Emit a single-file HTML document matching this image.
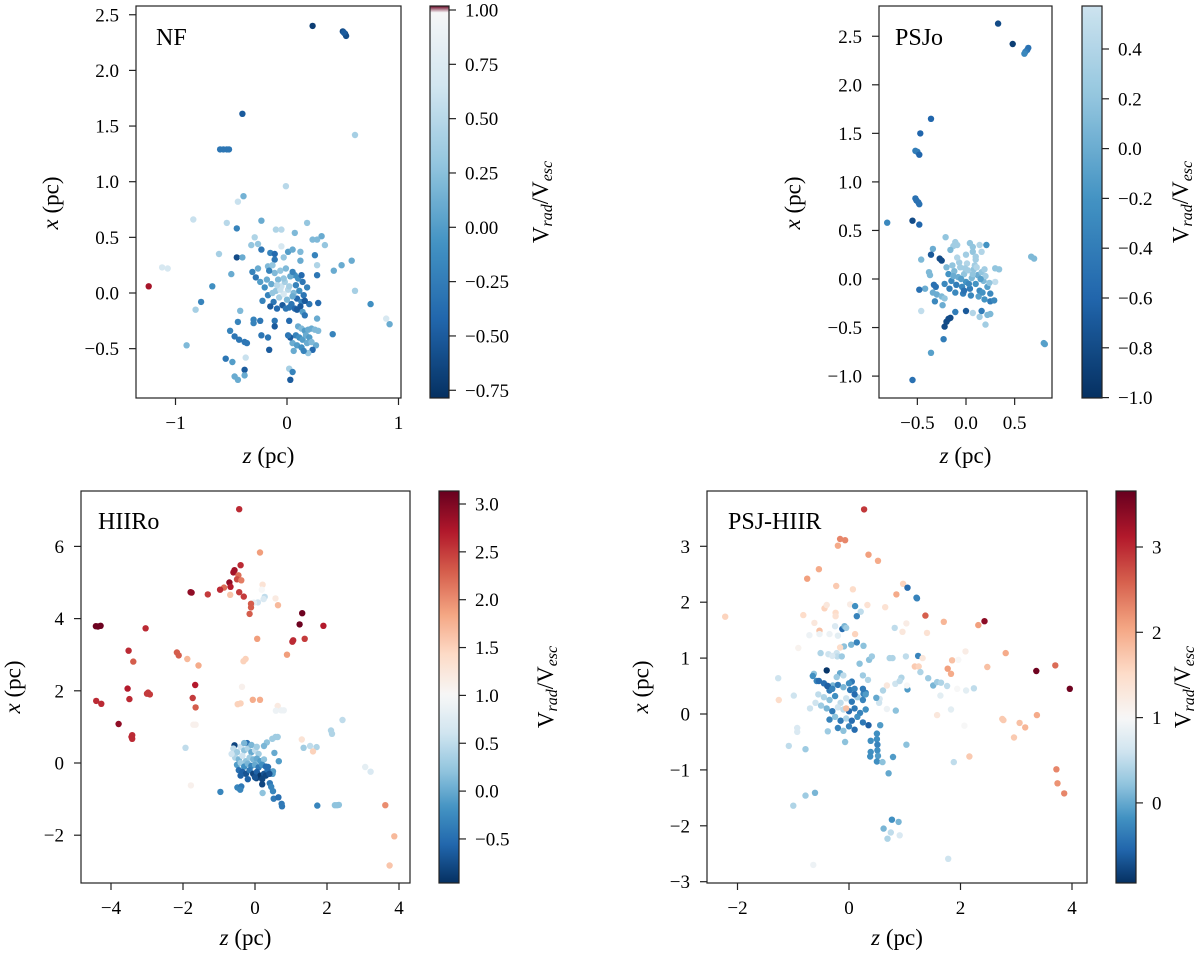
<!DOCTYPE html>
<html><head><meta charset="utf-8"><style>
html,body{margin:0;padding:0;background:#fff;}
svg text{font-family:"Liberation Serif",serif;fill:#000;}
</style></head><body>
<svg id="fig" width="1200" height="955" viewBox="0 0 1200 955" xmlns="http://www.w3.org/2000/svg"></svg>
<script>
// ---------- DATA (z [pc], x [pc], Vrad/Vesc) ----------
const nfPoints = [
[0.23,2.40,-0.7],[0.50,2.35,-0.6],[0.52,2.33,-0.6],[0.53,2.31,-0.6],[0.51,2.34,-0.5],
[-0.40,1.61,-0.5],[-0.60,1.29,-0.3],[-0.57,1.29,-0.3],[-0.54,1.29,-0.3],[-0.52,1.29,-0.3],
[0.61,1.42,0.4],[-0.01,0.96,0.5],[-0.39,0.87,0.15],[-0.44,0.82,0.6],[-0.84,0.66,0.6],[-0.54,0.63,0.5],
[-0.23,0.65,0.1],[-0.45,0.58,-0.2],[-0.10,0.57,0.45],[-0.05,0.57,0.5],[0.07,0.54,0.2],[0.18,0.63,0.3],
[0.31,0.51,0.1],[0.23,0.48,0.2],[0.27,0.48,0.2],[-0.29,0.50,0.45],[-0.32,0.43,0.3],[-0.26,0.44,0.3],
[-0.05,0.42,0.7],[-0.23,0.39,-0.3],[0.34,0.43,0.3],[-0.61,0.35,0.4],[-0.45,0.32,-0.6],[-0.40,0.32,0.1],
[-0.15,0.36,-0.2],[-0.11,0.35,-0.4],[0.01,0.37,0.0],[0.05,0.39,0.1],[0.12,0.37,0.2],[0.25,0.34,-0.2],
[-0.03,0.32,0.3],[-0.11,0.30,-0.3],[0.12,0.29,0.1],[0.58,0.29,0.1],[0.49,0.25,0.1],[0.27,0.25,0.45],
[0.42,0.20,0.1],[-0.50,0.17,0.1],[-0.31,0.19,-0.2],[-0.26,0.22,0.1],[-0.17,0.24,0.2],[-0.13,0.25,0.3],
[-0.28,0.14,-0.3],[0.27,0.16,-0.3],[0.07,0.16,-0.1],[-0.67,0.06,-0.1],[-1.24,0.06,1.015],
[-1.12,0.23,0.7],[-1.07,0.22,0.7],[0.61,0.02,0.4],[-0.77,-0.08,-0.2],[-0.82,-0.15,0.4],[-0.42,-0.16,0.2],
[0.28,-0.09,-0.4],[0.75,-0.10,-0.1],[0.89,-0.23,0.7],[0.92,-0.28,0.1],[-0.44,-0.26,-0.2],[-0.30,-0.24,-0.2],
[-0.30,-0.27,-0.2],[-0.24,-0.25,-0.3],[-0.11,-0.25,-0.3],[0.02,-0.25,-0.4],[0.27,-0.23,0.1],[-0.51,-0.34,-0.2],
[-0.47,-0.39,-0.3],[-0.43,-0.42,-0.3],[-0.38,-0.44,-0.3],[-0.36,-0.45,-0.3],[-0.23,-0.38,-0.3],[-0.17,-0.40,-0.3],
[-0.11,-0.30,-0.5],[-0.16,-0.51,-0.5],[-0.90,-0.47,0.2],[0.41,-0.37,-0.2],[0.26,-0.47,0.1],[0.23,-0.51,-0.4],
[0.19,-0.54,0.3],[-0.55,-0.59,-0.3],[-0.49,-0.62,0.0],[-0.37,-0.58,0.6],[-0.38,-0.69,-0.5],[-0.47,-0.75,0.1],
[-0.44,-0.78,0.1],[-0.38,-0.74,0.1],[0.02,-0.68,0.4],[0.05,-0.71,-0.2],[0.03,-0.78,-0.5],
[0.10,-0.30,0.1],[0.13,-0.32,0.2],[0.16,-0.34,0.0],[0.19,-0.33,0.1],[0.22,-0.32,0.1],[0.25,-0.33,0.2],
[0.28,-0.34,0.2],[0.08,-0.38,-0.2],[0.11,-0.40,-0.1],[0.14,-0.42,0.0],[0.17,-0.38,0.1],[0.20,-0.40,0.0],
[0.05,-0.45,0.1],[0.09,-0.47,0.0],[0.13,-0.49,-0.1],[0.18,-0.45,0.1],[0.22,-0.44,0.2],[0.03,-0.40,-0.5],
[0.06,-0.52,0.1],[0.15,-0.52,-0.2],[0.01,-0.38,-0.3],
[-0.20,0.05,-0.1],[-0.17,-0.02,-0.2],[-0.14,0.08,0.1],[-0.12,-0.08,-0.3],[-0.10,0.02,0.3],[-0.08,0.12,0.2],
[-0.07,-0.04,0.4],[-0.05,0.06,0.6],[-0.03,-0.01,0.7],[-0.02,0.10,0.4],[0.00,-0.06,0.2],[0.01,0.03,0.5],
[0.03,0.15,0.1],[0.04,-0.10,-0.3],[0.06,0.00,0.2],[0.08,0.07,-0.2],[0.09,-0.05,-0.4],[0.11,0.02,-0.1],
[0.13,-0.08,-0.2],[0.14,0.10,-0.3],[-0.22,-0.07,-0.2],[-0.18,0.12,0.1],[-0.15,-0.12,-0.5],[-0.11,0.18,0.2],
[-0.09,-0.14,-0.4],[-0.06,0.20,0.3],[-0.04,-0.11,-0.5],[-0.01,0.22,0.2],[0.02,-0.13,-0.3],[0.05,0.19,-0.2],
[0.07,-0.14,-0.4],[0.10,0.13,-0.1],[0.12,-0.12,-0.5],[0.15,-0.02,-0.3],[0.18,0.05,-0.2],[0.20,-0.10,-0.3],
[-0.24,0.10,0.0],[-0.13,0.00,0.3],[-0.06,0.03,0.6],[0.02,0.06,0.4],[-0.09,0.07,0.5],[-0.03,0.13,0.3],
[0.05,-0.03,0.1],[0.13,0.16,-0.4],[0.16,-0.07,-0.5],[-0.16,0.20,-0.2],[-0.01,-0.14,-0.3],[0.09,-0.15,-0.5],
[0.14,-0.17,0.0],[0.16,-0.20,-0.3]
];
const psjoPoints = [
[0.33,2.63,-0.8],[0.48,2.42,-0.9],[0.63,2.36,-0.5],[0.64,2.38,-0.5],[0.61,2.34,-0.4],[0.60,2.32,-0.3],
[-0.36,1.65,-0.6],[-0.47,1.50,-0.6],[-0.52,1.32,-0.4],[-0.50,1.31,-0.4],[-0.48,1.28,-0.6],
[-0.52,0.83,-0.5],[-0.51,0.81,-0.5],[-0.49,0.79,-0.5],[-0.48,0.77,-0.5],[-0.81,0.58,-0.3],[-0.55,0.60,-0.8],
[-0.48,0.56,-0.6],[-0.21,0.43,0.2],[-0.34,0.31,0.0],[-0.36,0.25,-0.7],[-0.27,0.21,-0.8],[-0.25,0.19,-0.8],
[-0.46,0.20,0.1],[-0.11,0.38,0.3],[-0.09,0.35,0.3],[-0.13,0.34,0.3],[0.04,0.37,0.2],[0.14,0.35,0.4],
[0.07,0.33,0.2],[0.21,0.35,-0.2],[-0.16,0.30,0.1],[0.00,0.25,0.3],[0.07,0.28,0.2],[0.10,0.23,0.3],
[0.16,0.28,0.4],[0.67,0.23,0.1],[0.70,0.21,0.1],[0.30,0.11,0.2],[0.34,0.10,0.2],[-0.38,0.07,0.1],
[-0.37,0.04,0.1],[-0.42,-0.10,0.0],[-0.48,-0.11,-0.5],[-0.33,-0.06,-0.5],[-0.31,-0.08,-0.5],
[-0.34,-0.14,0.0],[-0.30,-0.16,0.0],[-0.25,-0.18,0.1],[-0.22,-0.20,0.2],[-0.32,-0.23,-0.3],[-0.24,-0.27,0.0],
[-0.11,-0.34,-0.4],[0.00,-0.33,-0.7],[0.07,-0.35,0.4],[-0.46,-0.33,0.5],[0.16,-0.33,-0.4],[0.14,-0.39,0.3],
[0.22,-0.37,0.1],[0.25,-0.36,0.1],[0.20,-0.47,0.3],[0.25,-0.15,-0.3],[0.25,-0.23,-0.4],[0.29,-0.22,-0.3],
[0.19,-0.21,-0.2],[0.30,-0.03,0.5],[-0.18,-0.41,-0.8],[-0.16,-0.40,-0.8],[-0.20,-0.44,-0.8],[-0.22,-0.49,-0.8],
[-0.23,-0.62,-0.4],[-0.36,-0.76,-0.1],[-0.55,-1.04,-0.5],[0.80,-0.66,-0.1],[0.81,-0.67,-0.1],
[-0.18,0.05,-0.2],[-0.15,-0.02,-0.3],[-0.12,0.08,0.1],[-0.10,-0.06,-0.4],[-0.08,0.02,0.0],[-0.06,0.12,0.3],
[-0.04,-0.08,-0.3],[-0.02,0.05,0.2],[0.00,-0.03,-0.2],[0.02,0.09,0.3],[0.04,-0.10,-0.4],[0.06,0.01,0.1],
[0.08,0.10,0.2],[0.10,-0.05,-0.2],[0.12,0.04,0.0],[0.14,-0.12,-0.3],[0.16,0.07,0.2],[0.18,-0.02,0.1],
[0.20,0.03,0.3],[0.22,-0.08,-0.1],[-0.14,0.14,0.2],[-0.11,-0.14,-0.3],[-0.07,0.17,0.3],[-0.03,-0.15,-0.4],
[0.01,0.16,0.4],[0.05,-0.17,-0.3],[0.09,0.14,0.3],[0.13,-0.18,-0.1],[-0.20,0.12,0.1],[-0.17,-0.10,-0.4],
[-0.09,0.22,0.4],[-0.05,0.00,-0.1],[0.03,-0.05,-0.3],[0.07,0.05,0.2],[0.11,0.12,0.4],[0.15,0.00,-0.1],
[-0.13,0.03,0.0],[-0.01,0.11,0.3],[0.17,-0.14,-0.2],[0.24,-0.04,0.2],[-0.22,-0.05,-0.3],[-0.02,-0.12,-0.5],
[0.10,0.20,0.3],[0.19,0.10,0.3]
];
const hiiroPoints = [
[-0.44,7.03,2.6],[0.14,5.83,1.9],[-0.40,5.48,2.6],[-0.57,5.34,2.8],[-0.60,5.28,2.8],[-0.46,5.20,2.2],
[-0.50,5.09,2.4],[-0.38,5.06,2.1],[-0.71,5.00,2.9],[-0.68,4.88,2.7],[-0.86,4.86,2.2],[-0.97,4.80,2.6],
[-0.69,4.66,1.6],[-0.44,4.73,2.5],[-0.31,4.61,2.5],[-1.76,4.72,2.9],[-1.79,4.73,2.9],[-1.31,4.67,2.5],
[0.21,4.94,1.3],[0.19,4.80,1.0],[0.27,4.60,0.5],[0.24,4.54,0.7],[0.08,4.45,0.6],[-0.03,4.44,0.8],
[0.57,4.56,1.2],[0.64,4.37,1.7],[-0.11,4.41,2.3],[-0.11,4.31,2.3],[-0.15,4.13,2.3],[1.31,4.15,3.1],
[1.24,3.84,3.1],[1.90,3.80,2.7],[-4.42,3.79,3.1],[-4.29,3.80,3.1],[-4.36,3.78,3.1],[-3.04,3.73,2.6],
[0.06,3.44,1.9],[1.04,3.36,2.6],[1.06,3.40,2.6],[1.38,3.44,2.5],[-3.51,3.11,2.6],[-3.38,2.81,2.3],
[-2.17,3.06,2.3],[-2.12,2.98,2.3],[-1.88,2.88,1.7],[-1.57,2.70,1.8],[-0.32,2.82,1.5],[-0.26,2.88,1.5],
[0.89,3.00,1.9],[-1.66,2.16,2.7],[-3.54,2.06,2.7],[-3.49,1.77,2.6],[-3.00,1.92,2.5],[-2.92,1.90,2.5],
[-2.97,1.95,2.5],[-4.41,1.72,2.6],[-4.27,1.64,2.6],[-1.73,1.80,2.5],[-1.65,1.54,2.3],[-0.36,2.11,1.1],
[-0.48,1.63,1.5],[-0.40,1.65,1.5],[-0.06,1.75,1.8],[0.14,1.75,1.8],[0.63,1.58,1.2],[0.58,1.45,0.9],
[0.80,1.46,0.9],[0.73,1.46,0.9],[-3.79,1.08,2.9],[-3.41,0.77,2.6],[-3.41,0.67,2.6],[-3.43,0.72,2.6],
[-1.71,1.06,1.1],[-1.65,1.06,1.1],[2.43,1.19,0.5],[2.11,0.90,0.4],[2.14,0.81,0.4],[1.30,0.65,1.3],
[1.35,0.42,0.3],[1.53,0.47,0.5],[1.71,0.44,0.4],[1.61,0.32,1.5],[-1.93,0.42,0.5],[-1.78,-0.62,1.1],
[3.06,-0.11,0.8],[3.21,-0.24,0.7],[0.21,-0.83,0.2],[-0.96,-0.80,-0.3],[3.62,-1.17,2.0],[1.73,-1.18,-0.3],
[2.22,-1.17,0.2],[2.28,-1.17,0.2],[2.33,-1.16,0.2],[0.74,-1.13,-0.4],[0.75,-1.20,-0.4],[0.50,-0.78,-0.3],
[0.52,-0.99,-0.4],[0.65,-0.95,-0.5],[0.41,-0.56,-0.4],[0.45,-0.66,-0.3],[3.87,-2.03,1.7],[3.74,-2.84,1.6],
[0.57,0.72,0.3],[0.48,0.67,0.3],[0.63,0.72,0.3],[0.33,0.57,0.2],[0.25,0.47,0.1],[0.54,0.28,0.0],
[0.66,0.05,-0.1],[0.50,-0.23,-0.1],[0.49,-0.30,-0.1],[0.36,-0.11,-0.5],[0.20,-0.59,-0.8],[0.04,-0.42,-0.8],
[-0.49,-0.68,-0.3],[-0.38,-0.65,-0.4],[-0.41,-0.74,-0.3],[-0.22,0.55,-0.5],[-0.57,0.49,-0.8],
[-0.6,0.4,0.5],[-0.5,0.3,0.3],[-0.4,0.45,0.6],[-0.3,0.35,0.2],[-0.2,0.4,0.4],[-0.1,0.3,0.0],[0.0,0.35,0.5],
[0.1,0.25,0.3],[-0.55,0.15,0.4],[-0.45,0.1,0.1],[-0.35,0.2,0.6],[-0.25,0.05,0.2],[-0.15,0.15,0.3],
[-0.05,0.1,0.1],[0.05,0.12,0.0],[0.15,0.05,-0.1],[0.25,0.1,0.2],[-0.5,-0.05,-0.1],[-0.4,0.0,0.3],
[-0.3,-0.1,-0.2],[-0.2,-0.02,0.1],[-0.1,-0.08,-0.3],[0.0,-0.05,0.0],[0.1,-0.12,-0.4],[0.2,-0.05,-0.2],
[0.3,-0.1,-0.5],[-0.45,-0.2,-0.5],[-0.35,-0.25,-0.6],[-0.25,-0.3,-0.7],[-0.15,-0.2,-0.4],[-0.05,-0.3,-0.8],
[0.05,-0.25,-0.6],[0.15,-0.35,-0.9],[0.25,-0.3,-0.7],[0.35,-0.2,-0.5],[-0.2,-0.45,-0.6],[0.0,-0.4,-0.7],
[0.2,-0.45,-0.8],[0.3,-0.35,-0.8],[-0.1,0.5,0.1],[-0.65,0.25,0.6],[0.05,0.45,0.3],[-0.3,0.55,0.1],
[0.4,-0.3,-0.7],[-0.4,-0.35,-0.6]
];
const psjhiirPoints = [
[0.27,3.66,2.9],[-0.16,3.13,2.3],[-0.07,3.11,2.3],[-0.20,3.01,2.0],[0.35,2.85,2.1],[0.52,2.74,2.0],
[-0.54,2.59,2.0],[-0.75,2.42,2.1],[-0.23,2.29,1.7],[0.07,2.23,1.5],[0.97,2.33,1.6],[1.05,2.26,-0.5],
[1.21,2.08,-0.3],[1.22,2.07,-0.3],[0.85,2.14,2.0],[-2.22,1.74,1.6],[-0.44,1.89,1.6],[-0.40,1.95,1.3],
[0.02,1.96,1.2],[0.33,1.95,1.4],[0.65,1.91,1.4],[0.11,1.93,-0.2],[0.21,1.83,0.5],[0.14,1.75,-0.3],
[-0.82,1.77,1.5],[-0.62,1.63,1.3],[-0.24,1.81,1.5],[-0.24,1.75,1.4],[1.37,1.76,2.6],[1.70,1.65,1.9],
[2.32,1.59,2.1],[2.43,1.66,3.4],[-0.12,1.52,-0.5],[-0.08,1.57,0.1],[-0.05,1.54,0.3],[-0.25,1.57,0.7],
[-0.35,1.43,0.9],[-0.20,1.40,0.8],[-0.53,1.49,1.8],[-0.53,1.43,0.9],[-0.71,1.41,0.9],[0.11,1.43,1.6],
[0.82,1.54,0.5],[1.03,1.62,1.2],[0.96,1.47,1.3],[1.40,1.45,1.4],[0.04,1.24,0.1],[0.14,1.28,-0.3],
[0.26,1.22,0.2],[-0.09,1.21,0.2],[-0.16,1.19,1.5],[-0.91,1.18,1.1],[-0.51,1.09,0.4],[-0.37,1.07,0.6],
[-0.22,1.09,0.6],[-0.21,1.03,0.5],[-0.13,1.03,0.3],[-0.30,1.04,0.7],[0.19,0.90,0.2],[0.36,0.97,0.2],
[0.41,1.03,0.3],[0.73,1.00,0.4],[0.78,1.00,0.4],[1.02,1.03,0.5],[1.24,1.04,-0.3],[1.18,0.85,1.7],
[1.25,0.85,1.6],[1.32,1.00,1.3],[1.85,0.96,1.8],[1.77,0.81,2.1],[1.83,0.72,2.0],[2.09,1.12,1.2],
[1.96,0.97,1.0],[2.81,1.09,2.0],[2.48,0.84,1.8],[3.36,0.77,3.6],[3.70,0.87,2.5],[3.96,0.45,3.6],
[-1.27,0.64,0.6],[-1.26,0.25,1.5],[-0.99,0.33,0.6],[-0.63,0.72,0.2],[-0.58,0.59,-0.3],[-0.54,0.59,-0.5],
[-0.39,0.50,-0.9],[-0.35,0.42,-0.4],[-0.29,0.51,0.1],[-0.16,0.73,0.0],[-0.22,0.66,0.3],[-0.10,0.69,0.5],
[0.05,0.58,-0.4],[0.02,0.43,-0.4],[0.25,0.69,0.3],[0.26,0.36,-0.3],[0.30,0.38,-0.3],[0.34,0.61,0.4],
[0.61,0.42,0.4],[0.68,0.51,1.3],[0.83,0.54,0.6],[0.94,0.65,0.4],[0.91,0.59,0.5],[1.05,0.44,-0.1],
[1.04,0.51,1.0],[1.28,0.75,0.4],[1.42,0.64,0.3],[1.51,0.51,0.1],[1.58,0.57,0.3],[1.65,0.56,0.4],
[1.76,0.50,0.5],[1.94,0.45,1.0],[2.10,0.42,0.8],[2.24,0.46,0.5],[1.64,0.33,0.8],[1.83,0.08,0.8],
[1.58,-0.02,1.3],[2.07,-0.21,1.0],[2.75,-0.09,1.7],[2.77,-0.11,1.7],[3.06,-0.16,1.8],[3.16,-0.24,1.9],
[2.96,-0.42,1.7],[3.37,-0.02,2.0],[0.55,0.27,0.7],[0.54,0.20,0.6],[0.49,0.29,0.0],[0.68,0.09,0.9],
[0.84,0.06,0.2],[0.56,-0.20,-0.1],[0.50,-0.35,-0.2],[0.50,-0.45,-0.2],[0.51,-0.55,-0.3],[0.51,-0.65,-0.2],
[0.52,-0.75,-0.1],[0.50,-0.85,-0.2],[0.39,-0.48,-0.2],[0.39,-0.68,-0.2],[0.38,-0.76,-0.2],[0.60,-0.86,0.2],
[0.79,-0.77,-0.1],[0.71,-1.06,0.0],[1.03,-0.55,0.2],[2.16,-0.76,1.7],[1.88,-0.86,0.5],[3.72,-0.99,2.3],
[3.74,-1.24,2.2],[3.86,-1.42,2.3],[-0.93,-0.25,0.7],[-0.93,-0.32,0.7],[-1.08,-0.57,0.5],[-0.78,-0.63,0.3],
[-0.07,-0.50,0.2],[-0.38,-0.31,0.3],[-0.61,-1.41,0.1],[-0.78,-1.46,0.3],[-1.00,-1.64,0.4],[0.77,-1.89,-0.2],
[0.89,-1.93,0.1],[0.62,-2.05,0.1],[0.75,-2.12,0.5],[0.69,-2.23,0.4],[0.91,-2.17,0.7],[1.78,-2.59,0.6],
[-0.64,-2.70,0.9],
[-0.45,0.55,-0.5],[-0.38,0.50,-0.6],[-0.30,0.45,-0.3],[-0.20,0.52,-0.4],[-0.10,0.48,0.1],[0.00,0.55,-0.2],
[0.10,0.45,-0.3],[-0.55,0.35,0.5],[-0.45,0.30,0.4],[-0.35,0.25,0.2],[-0.25,0.32,-0.2],[-0.15,0.20,0.5],
[-0.05,0.28,0.6],[0.05,0.22,-0.4],[0.15,0.30,0.3],[0.25,0.25,-0.3],[-0.60,0.20,0.6],[-0.50,0.15,0.3],
[-0.40,0.10,0.1],[-0.30,0.05,-0.4],[-0.20,0.12,0.6],[-0.10,0.08,0.5],[0.00,0.05,-0.5],[0.10,0.10,-0.4],
[0.20,0.02,-0.3],[0.30,0.08,-0.2],[-0.35,-0.10,-0.3],[-0.25,-0.05,0.2],[-0.15,-0.12,-0.4],[-0.05,-0.08,0.4],
[0.05,-0.12,-0.5],[0.15,-0.05,-0.2],[0.25,-0.15,-0.4],[0.35,-0.20,-0.6],[-0.20,-0.25,-0.3],[-0.10,-0.30,0.2],
[0.00,-0.22,-0.3],[0.10,-0.28,-0.5],[-0.05,0.10,1.8],[-0.40,0.78,-0.9],[-0.65,0.68,-0.2],[0.10,0.35,-0.5],
[0.30,0.35,-0.1],[-0.70,0.10,0.6],[0.25,0.45,-0.4]
];
// tick values
const nfXTicks=[-1,0,1], nfYTicks=[-0.5,0,0.5,1,1.5,2,2.5], nfCTicks=[-0.75,-0.5,-0.25,0,0.25,0.5,0.75,1];
const psjoXTicks=[-0.5,0,0.5], psjoYTicks=[-1,-0.5,0,0.5,1,1.5,2,2.5], psjoCTicks=[-1,-0.8,-0.6,-0.4,-0.2,0,0.2,0.4];
const hiiroXTicks=[-4,-2,0,2,4], hiiroYTicks=[-2,0,2,4,6], hiiroCTicks=[-0.5,0,0.5,1,1.5,2,2.5,3];
const psjhXTicks=[-2,0,2,4], psjhYTicks=[-3,-2,-1,0,1,2,3], psjhCTicks=[0,1,2,3];

// ---------- RENDER ----------
const NS='http://www.w3.org/2000/svg';
const svg=document.getElementById('fig');
function mk(tag,attrs,parent){const e=document.createElementNS(NS,tag);for(const k in attrs)e.setAttribute(k,attrs[k]);(parent||svg).appendChild(e);return e;}
const RdBu=[[5,48,97],[33,102,172],[67,147,195],[146,197,222],[209,229,240],[247,247,247],[253,219,199],[244,165,130],[214,96,77],[178,24,43],[103,0,31]];
function cmap(t){t=Math.max(0,Math.min(1,t));const f=t*10,i=Math.min(9,Math.floor(f)),u=f-i;const a=RdBu[i],b=RdBu[i+1];
return 'rgb('+[0,1,2].map(k=>Math.round(a[k]+(b[k]-a[k])*u)).join(',')+')';}
function norm(v,vmin,vmax){return v<1?0.5*(v-vmin)/(1-vmin):0.5+0.5*(v-1)/(vmax-1);}
function fmt(v,d){const s=Math.abs(v).toFixed(d);return (v<0?'\u2212':'')+s;}
const TL=7;

const panels=[
 {name:'nf',label:'NF',pts:nfPoints,box:[136,401,6,398],zx:[287,111.5],xy:[293,-111.3],xt:nfXTicks,xd:0,yt:nfYTicks,yd:1,
  cb:[430,449],cy:[10,217.3,1.0],crange:[-0.787,1.018],ct:nfCTicks,cd:2,lab:[156,45],ylab:[53,203],xlab:463,cblab:543},
 {name:'psjo',label:'PSJo',pts:psjoPoints,box:[879,1052,6,398],zx:[966,97.3],xy:[279,-97.1],xt:psjoXTicks,xd:1,yt:psjoYTicks,yd:1,
  cb:[1082,1102],cy:[49,249,0.4],crange:[-1.0,0.573],ct:psjoCTicks,cd:1,lab:[895,45],ylab:[795,203],xlab:463,cblab:1183},
 {name:'hiiro',label:'HIIRo',pts:hiiroPoints,box:[81,410,491,883],zx:[255,36.0],xy:[763,-36.1],xt:hiiroXTicks,xd:0,yt:hiiroYTicks,yd:0,
  cb:[439,459],cy:[504,95.7,3.0],crange:[-0.96,3.136],ct:hiiroCTicks,cd:1,lab:[98,529],ylab:[15,687],xlab:945,cblab:548},
 {name:'psj-hiir',label:'PSJ-HIIR',pts:psjhiirPoints,box:[707,1087,491,883],zx:[849,55.75],xy:[714,-55.9],xt:psjhXTicks,xd:0,yt:psjhYTicks,yd:0,
  cb:[1116,1136],cy:[547,85.3,3.0],crange:[-0.94,3.66],ct:psjhCTicks,cd:0,lab:[728,529],ylab:[643,687],xlab:945,cblab:1185}
];

panels.forEach((p,pi)=>{
 const g=mk('g',{});
 
 
 const [L,R,T,B]=p.box;
 const sx=z=>p.zx[0]+z*p.zx[1];
 const sy=x=>p.xy[0]+x*p.xy[1];
 const cy=v=>p.cy[0]+(p.cy[2]-v)*p.cy[1];
 const [vmin,vmax]=p.crange;
 const cp=mk('clipPath',{id:'clip'+pi},g);
 mk('rect',{x:L,y:T,width:R-L,height:B-T},cp);
 const pg=mk('g',{'clip-path':'url(#clip'+pi+')'},g);
 
 
 p.pts.forEach(d=>{
  const c=mk('circle',{cx:sx(d[0]).toFixed(1),cy:sy(d[1]).toFixed(1),r:3.2,fill:cmap(norm(d[2],vmin,vmax))},pg);
  
  
 });
 const frame=mk('rect',{x:L,y:T,width:R-L,height:B-T,fill:'none',stroke:'#222','stroke-width':1.2},g);
 
 
 p.xt.forEach(v=>{const X=sx(v);
  mk('line',{x1:X,x2:X,y1:B,y2:B+TL,stroke:'#222','stroke-width':1.2},g);
  const t=mk('text',{x:X,y:B+31,'font-size':19,'text-anchor':'middle'},g);t.textContent=fmt(v,p.xd);
  
  });
 p.yt.forEach(v=>{const Y=sy(v);
  mk('line',{x1:L-TL,x2:L,y1:Y,y2:Y,stroke:'#222','stroke-width':1.2},g);
  const t=mk('text',{x:L-17,y:Y+6.5,'font-size':19,'text-anchor':'end'},g);t.textContent=fmt(v,p.yd);
  
  });
 const pl=mk('text',{x:p.lab[0],y:p.lab[1],'font-size':24},g);pl.textContent=p.label;
 
 
 const xl=mk('text',{x:(L+R)/2,y:p.xlab,'font-size':23,'text-anchor':'middle'},g);
 xl.innerHTML='<tspan font-style="italic">z</tspan> (pc)';
 
 
 const yl=mk('text',{x:p.ylab[0],y:p.ylab[1],'font-size':23,'text-anchor':'middle',transform:'rotate(-90 '+p.ylab[0]+' '+p.ylab[1]+')','dominant-baseline':'middle'},g);
 yl.innerHTML='<tspan font-style="italic">x</tspan> (pc)';
 
 
 const gid='grad'+pi;
 const lg=mk('linearGradient',{id:gid,x1:0,y1:1,x2:0,y2:0},g);
 for(let i=0;i<=60;i++){const v=vmin+(vmax-vmin)*i/60;mk('stop',{offset:(i/60),'stop-color':cmap(norm(v,vmin,vmax))},lg);}
 const cbr=mk('rect',{x:p.cb[0],y:T,width:p.cb[1]-p.cb[0],height:B-T,fill:'url(#'+gid+')',stroke:'#222','stroke-width':1.2},g);
 
 
 p.ct.forEach(v=>{const Y=cy(v);
  mk('line',{x1:p.cb[1],x2:p.cb[1]+TL,y1:Y,y2:Y,stroke:'#222','stroke-width':1.2},g);
  const t=mk('text',{x:p.cb[1]+16,y:Y+6.5,'font-size':19},g);t.textContent=fmt(v,p.cd);
  
  });
 const cmid=(T+B)/2;
 const cl=mk('text',{x:p.cblab,y:cmid,'font-size':23,'text-anchor':'middle','dominant-baseline':'middle',transform:'rotate(-90 '+p.cblab+' '+cmid+')'},g);
 cl.innerHTML='V<tspan font-size="16" dy="5" font-style="italic">rad</tspan><tspan dy="-5">/V</tspan><tspan font-size="16" dy="5" font-style="italic">esc</tspan>';
 
 
});
</script>
</body></html>
